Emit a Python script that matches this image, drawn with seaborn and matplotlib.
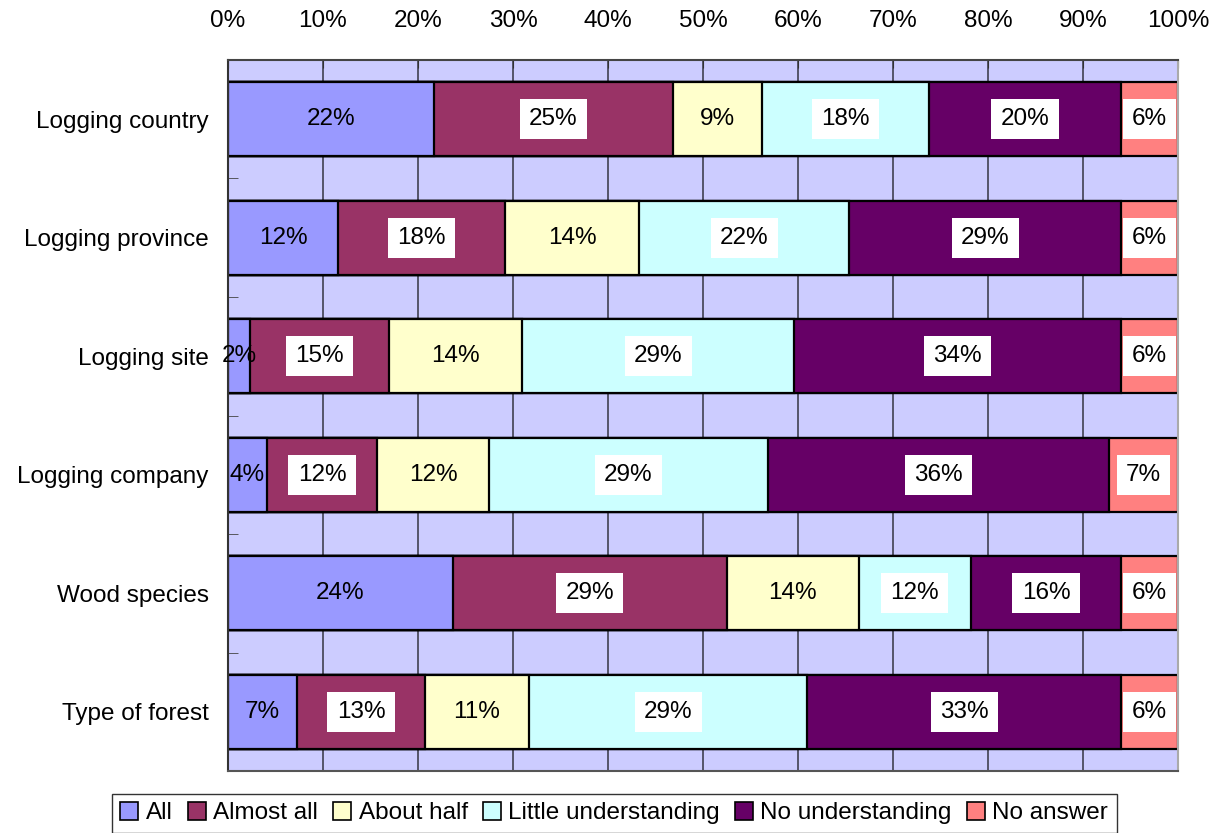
import numpy as np
import pandas as pd
import matplotlib
matplotlib.use("Agg")
import matplotlib.pyplot as plt
import seaborn as sns
from matplotlib.patches import Patch

categories = ["Logging country", "Logging province", "Logging site",
              "Logging company", "Wood species", "Type of forest"]
series = ["All", "Almost all", "About half", "Little understanding",
          "No understanding", "No answer"]
all_v = [21.7, 11.6, 2.3, 4.1, 23.7, 7.3]
almost_all = [25.1, 17.6, 14.6, 11.6, 28.8, 13.4]
about_half = [9.4, 14.1, 14.1, 11.8, 13.9, 11.0]
little = [17.6, 22.1, 28.6, 29.3, 11.8, 29.3]
no_under = [20.2, 28.6, 34.4, 35.9, 15.8, 33.0]
no_answer = [6.0, 6.0, 6.0, 7.3, 6.0, 6.0]
xticks = [0, 10, 20, 30, 40, 50, 60, 70, 80, 90, 100]

colors = ["#9999FF", "#993366", "#FFFFCC", "#CCFFFF", "#660066", "#FF8080"]
boxed = [False, True, False, True, True, True]

plt.rcParams["font.family"] = ["Liberation Sans", "DejaVu Sans"]
FS = 17.5

values = np.array([all_v, almost_all, about_half, little, no_under, no_answer])
cum = np.cumsum(values, axis=0)

fig = plt.figure(figsize=(12.21, 8.33), dpi=100)
ax = fig.add_axes([0.1867, 0.0744, 0.9648 - 0.1867, 0.928 - 0.0744])
ax.set_facecolor("#CCCCFF")

for i in range(len(series) - 1, -1, -1):
    df = pd.DataFrame({"cat": categories, "val": cum[i]})
    sns.barplot(data=df, x="val", y="cat", orient="h", color=colors[i],
                saturation=1, width=0.625, edgecolor="black", linewidth=1.6,
                ax=ax, zorder=2)

starts = cum - values
for i in range(len(series)):
    for j in range(len(categories)):
        c = starts[i, j] + values[i, j] / 2
        kw = {}
        if boxed[i]:
            kw["bbox"] = dict(boxstyle="square,pad=0.38", facecolor="white", edgecolor="none")
        ax.text(c, j, f"{int(round(values[i, j]))}%", ha="center", va="center",
                fontsize=FS, color="black", zorder=5, **kw)

ax.set_xlim(0, 100)
ax.set_ylim(len(categories) - 0.5, -0.5)
ax.set_xticks(xticks)
ax.set_xticklabels([f"{t}%" for t in xticks])
ax.xaxis.tick_top()
ax.tick_params(axis="x", which="major", direction="in", length=6, pad=20,
               labelsize=FS, color="#333333", top=True, bottom=False)
ax.tick_params(axis="y", which="major", length=0, pad=14, labelsize=FS)
ax.set_yticks(np.arange(len(categories) - 1) + 0.5, minor=True)
ax.tick_params(axis="y", which="minor", direction="in", length=7, color="#444444")
ax.set_xlabel("")
ax.set_ylabel("")
ax.set_axisbelow(True)
ax.xaxis.grid(True, color="#404050", linewidth=1.2, zorder=0)
ax.yaxis.grid(False)

ax.spines["left"].set_color("#333333")
ax.spines["bottom"].set_color("#555555")
ax.spines["top"].set_color("#444444")
ax.spines["right"].set_color("#aaaaaa")
for s in ax.spines.values():
    s.set_linewidth(1.5)

handles = [Patch(facecolor=c, edgecolor="black", linewidth=1.2) for c in colors]
leg = fig.legend(handles, series, loc="lower center", bbox_to_anchor=(0.503, 0.0),
                 ncol=6, frameon=True, fancybox=False, fontsize=FS,
                 handlelength=0.75, handleheight=0.75, handletextpad=0.3,
                 columnspacing=0.62, borderpad=0.35, borderaxespad=0)
leg.get_frame().set_edgecolor("black")
leg.get_frame().set_linewidth(1.0)

fig.savefig("out.png", dpi=100)
